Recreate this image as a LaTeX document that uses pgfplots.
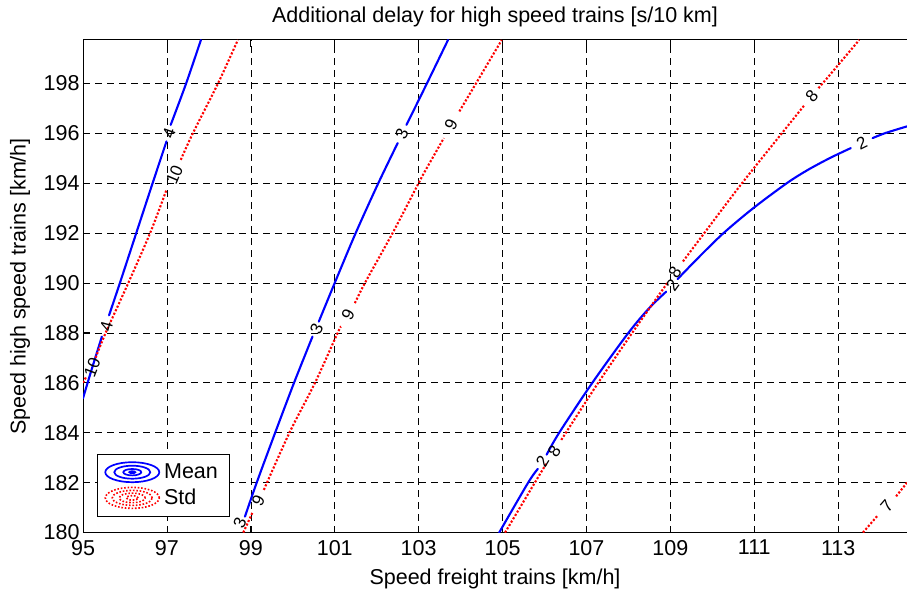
\documentclass[border=0pt]{standalone}
\usepackage{pgfplots}
\pgfplotsset{compat=1.18}
\usepackage{fontspec}
\setmainfont{Liberation Sans}
\usetikzlibrary{calc}

\pgfplotsset{
  meanline/.style={draw=blue, line width=2.1pt, line join=round, line cap=round, smooth, tension=0.5, forget plot},
  stdline/.style={draw=red, line width=2.1pt, dash pattern=on 2.1pt off 1.8pt, smooth, tension=0.5, forget plot},
}
\tikzset{clab/.style={font=\fontsize{17}{17}\selectfont, inner sep=0pt, text=black}}
\newcommand{\bigfont}{\fontsize{21.5}{24}\selectfont}

\begin{document}
\begin{tikzpicture}
\begin{axis}[
  name=ax,
  scale only axis,
  width=823.9pt, height=492.5pt,
  xmin=95, xmax=114.64,
  ymin=180, ymax=199.73,
  axis x line*=box, axis y line*=left,
  axis line style={line width=1pt, black},
  xtick={95,97,...,113},
  ytick={180,182,...,198},
  tick align=inside,
  major tick length=7pt,
  tick style={black, line width=0.8pt},
  grid=major,
  major grid style={black, line width=0.65pt, dash pattern=on 7pt off 5pt},
  /pgf/number format/assume math mode=true,
  ticklabel style={font=\bigfont},
  xticklabel style={yshift=-4pt},
  title={Additional delay for high speed trains [s/10 km]},
  title style={font=\bigfont, at={(rel axis cs:0.5,1)}, anchor=center, yshift=17pt},
  xlabel={Speed freight trains [km/h]},
  ylabel={Speed high speed trains [km/h]},
  every axis x label/.style={font=\bigfont, at={(rel axis cs:0.5,0)}, anchor=center, yshift=-46pt},
  every axis y label/.style={font=\bigfont, at={(rel axis cs:0,0.5)}, anchor=center, rotate=90, yshift=63pt},
  legend style={font=\bigfont, draw=black, line width=0.8pt, fill=white,
    at={(axis cs:95.334,180.63)}, anchor=south west,
    inner xsep=7pt, inner ysep=6pt, row sep=1pt,
    nodes={inner sep=4pt}},
  legend cell align=left,
]

% legend symbols: nested contour rings
\addlegendimage{legend image code/.code={
  \draw[blue, line width=1.7pt] (28pt,0) ellipse (27pt and 10pt);
  \draw[blue, line width=1.7pt] (28pt,0) ellipse (18pt and 6.5pt);
  \draw[blue, line width=1.7pt] (28pt,0) ellipse (9pt and 3.2pt);
  \draw[blue, line width=1.7pt] (28pt,0) ellipse (3pt and 1pt);
}}
\addlegendentry{Mean}
\addlegendimage{legend image code/.code={
  \draw[red, line width=1.6pt, dash pattern=on 1.6pt off 1.8pt] (28pt,0) ellipse (27pt and 10.5pt);
  \draw[red, line width=1.6pt, dash pattern=on 1.6pt off 1.8pt] (28pt,0) ellipse (20pt and 7.5pt);
  \draw[red, line width=1.6pt, dash pattern=on 1.6pt off 1.8pt] (28pt,0) ellipse (13pt and 4.8pt);
  \draw[red, line width=1.6pt, dash pattern=on 1.6pt off 1.8pt] (28pt,0) ellipse (6pt and 2.2pt);
}}
\addlegendentry{Std}

% ---- mean = 4 ----
\addplot[meanline] coordinates {(95,185.38) (95.2,186.5) (95.45,187.85)};
\addplot[meanline] coordinates {(95.62,188.7) (95.88,190) (96.27,192) (96.66,194) (96.99,195.67)};
\addplot[meanline] coordinates {(97.09,196.33) (97.46,198) (97.81,199.73)};
% ---- std = 10 ----
\addplot[stdline] coordinates {(95,186.0) (95.08,186.25)};
\addplot[stdline] coordinates {(95.3,187.0) (95.54,188) (96.08,190) (96.6,192) (96.99,193.73)};
\addplot[stdline] coordinates {(97.33,194.93) (97.62,196) (98.22,198) (98.69,199.73)};
% ---- mean = 3 ----
\addplot[meanline] coordinates {(98.86,180.64) (99.14,182) (99.58,184) (100.03,186) (100.47,187.85)};
\addplot[meanline] coordinates {(100.62,188.45) (101.0,190) (101.5,192) (102.04,194) (102.5,195.6)};
\addplot[meanline] coordinates {(102.71,196.33) (103.2,198) (103.7,199.73)};
% ---- std = 9 ----
\addplot[stdline] coordinates {(98.82,180) (99.05,180.84)};
\addplot[stdline] coordinates {(99.31,181.71) (99.92,184) (100.53,186) (101.07,188) (101.15,188.25)};
\addplot[stdline] coordinates {(101.48,189.19) (101.72,190) (102.38,192) (103.0,194) (103.17,194.53) (103.6,195.8)};
\addplot[stdline] coordinates {(103.97,196.87) (104.37,198) (104.98,199.73)};
% ---- mean = 2 ----
\addplot[meanline] coordinates {(104.92,180) (105.61,182) (105.84,182.55)};
\addplot[meanline] coordinates {(106.05,183.12) (106.35,184) (107.14,186) (108.0,188) (108.5,189) (108.9,189.65)};
\addplot[meanline] coordinates {(109.17,190.15) (109.66,191) (110.27,192) (110.98,193) (111.78,194) (112.28,194.53) (112.8,195) (113.3,195.4)};
\addplot[meanline] coordinates {(113.82,195.8) (114.12,196) (114.64,196.27)};
% ---- std = 8 ----
\addplot[stdline] coordinates {(105.06,180) (105.77,182) (106.05,182.78)};
\addplot[stdline] coordinates {(106.4,183.71) (106.51,184) (107.28,186) (108.09,188) (108.53,189.05) (108.93,190)};
\addplot[stdline] coordinates {(109.3,190.86) (109.81,192) (110.71,194) (111.66,196) (112.2,197.13)};
\addplot[stdline] coordinates {(112.53,197.8) (112.87,198.47) (113.5,199.73)};
% ---- std = 7 ----
\addplot[stdline] coordinates {(113.59,180) (113.95,180.7)};
\addplot[stdline] coordinates {(114.38,181.45) (114.64,182.0)};

% contour level labels
\node[clab, rotate=75] at (axis cs:95.56,188.25) {4};
\node[clab, rotate=71] at (axis cs:97.05,196.0) {4};
\node[clab, rotate=69] at (axis cs:95.22,186.62) {10};
\node[clab, rotate=67] at (axis cs:97.18,194.33) {10};
\node[clab, rotate=67] at (axis cs:98.74,180.38) {3};
\node[clab, rotate=67] at (axis cs:100.57,188.14) {3};
\node[clab, rotate=67] at (axis cs:102.6,195.96) {3};
\node[clab, rotate=63] at (axis cs:99.18,181.28) {9};
\node[clab, rotate=63] at (axis cs:101.32,188.72) {9};
\node[clab, rotate=63] at (axis cs:103.77,196.33) {9};
\node[clab, rotate=59] at (axis cs:105.95,182.84) {2};
\node[clab, rotate=54] at (axis cs:109.05,189.9) {2};
\node[clab, rotate=26] at (axis cs:113.56,195.6) {2};
\node[clab, rotate=57] at (axis cs:106.23,183.25) {8};
\node[clab, rotate=56] at (axis cs:109.11,190.43) {8};
\node[clab, rotate=49] at (axis cs:112.37,197.47) {8};
\node[clab, rotate=49] at (axis cs:114.16,181.07) {7};
\end{axis}
\pgfresetboundingbox
\path[use as bounding box] ($(ax.south west)+(-83pt,-59.3pt)$) rectangle ($(ax.north east)+(0pt,40pt)$);
\end{tikzpicture}
\end{document}
